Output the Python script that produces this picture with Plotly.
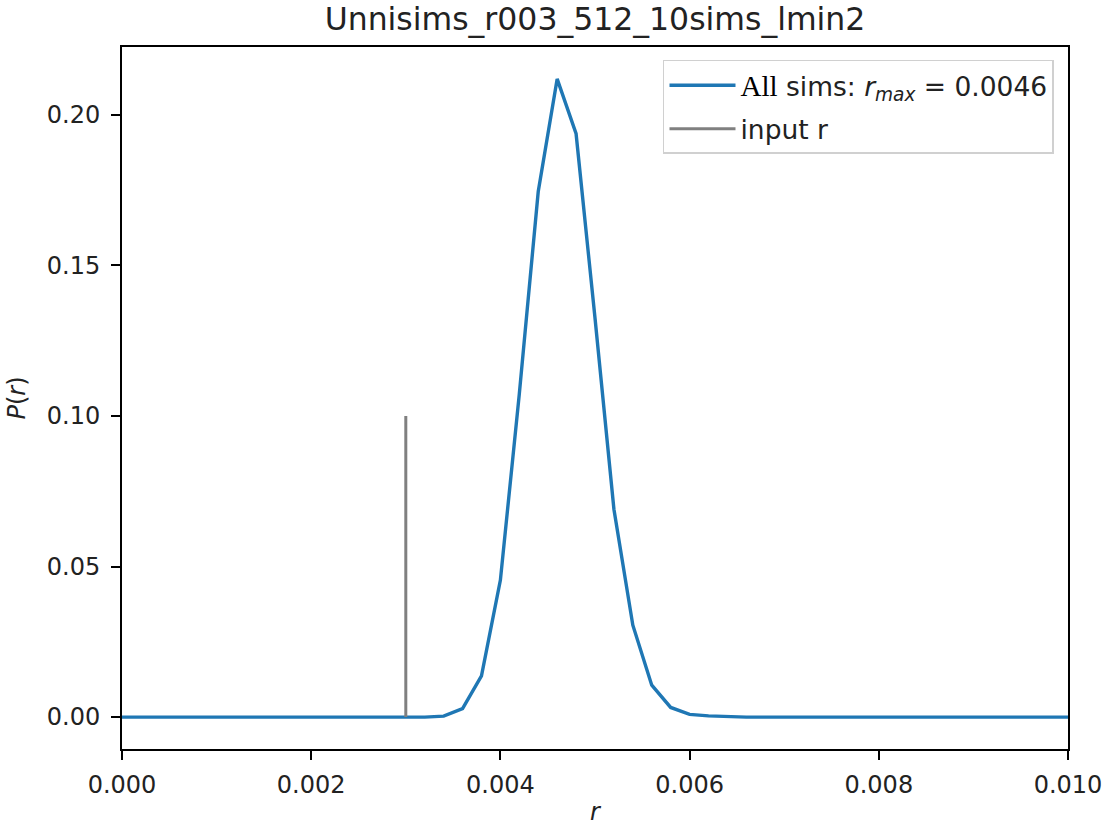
import plotly.graph_objects as go

# ---- data ----
r_values = [round(i * 0.0002, 4) for i in range(51)]  # grid 0 .. 0.010
p_nonzero = {
    0.0034: 0.0003,
    0.0036: 0.0028,
    0.0038: 0.0137,
    0.0040: 0.0455,
    0.0042: 0.1073,
    0.0044: 0.1745,
    0.0046: 0.2119,
    0.0048: 0.1937,
    0.0050: 0.1325,
    0.0052: 0.0690,
    0.0054: 0.0305,
    0.0056: 0.0106,
    0.0058: 0.0032,
    0.0060: 0.0009,
    0.0062: 0.0004,
    0.0064: 0.0001,
}
p_values = [p_nonzero.get(r, 0.0) for r in r_values]

input_r = 0.003
input_line_y = [0.0, 0.1]

x_ticks = [0.000, 0.002, 0.004, 0.006, 0.008, 0.010]
y_ticks = [0.00, 0.05, 0.10, 0.15, 0.20]

title_text = "Unnisims_r003_512_10sims_lmin2"

FONT = "DejaVu Sans"
BLUE = "#1f77b4"
GRAY = "#808080"
TEXT = "#222222"

fig = go.Figure()
fig.add_trace(go.Scatter(
    x=r_values, y=p_values, mode="lines",
    line=dict(color=BLUE, width=3.4),
    name="<span style=\"font-family:'Liberation Serif';font-size:29px;fill:#000\">All</span> sims: "
         "<i>r</i><sub><i>max</i></sub> = 0.0046",
    legendgroup="a",
))
fig.add_trace(go.Scatter(
    x=[input_r, input_r], y=input_line_y, mode="lines",
    line=dict(color=GRAY, width=3.0),
    name="input r",
    legendgroup="b",
))

axis_common = dict(
    showline=True, linecolor="black", linewidth=1.9, mirror=True,
    ticks="outside", ticklen=9, tickwidth=1.9, tickcolor="black",
    showgrid=False, zeroline=False, automargin=False,
    tickfont=dict(family=FONT, size=24, color=TEXT),
)

fig.update_layout(
    width=1106, height=826,
    margin=dict(l=122, r=38, t=47, b=77),
    paper_bgcolor="white", plot_bgcolor="white",
    title=dict(text=title_text, x=0.5, xanchor="center", xref="paper",
               y=1 - 19 / 826, yanchor="middle",
               font=dict(family=FONT, size=31.5, color=TEXT)),
    xaxis=dict(range=[0, 0.010], tickvals=x_ticks,
               ticktext=[f"{v:.3f}" for v in x_ticks],
               ticklabelstandoff=4,
               title=dict(text="<i>r</i>", standoff=9,
                          font=dict(family=FONT, size=24, color=TEXT)),
               **axis_common),
    yaxis=dict(range=[-0.0106, 0.2225], tickvals=y_ticks,
               ticktext=[f"{v:.2f}" for v in y_ticks],
               ticklabelstandoff=6,
               title=dict(text="<i>P</i>(<i>r</i>)", standoff=14,
                          font=dict(family=FONT, size=24, color=TEXT)),
               **axis_common),
    legend=dict(x=0.9852, xanchor="right", y=0.9815, yanchor="top",
                bgcolor="rgba(255,255,255,0.8)", bordercolor="#d0d0d0",
                borderwidth=1.5, traceorder="grouped", tracegroupgap=6,
                itemwidth=66,
                font=dict(family=FONT, size=26.5, color=TEXT)),
    showlegend=True,
)

fig.write_html(
    "out.html",
    config={"displayModeBar": False},
    post_script="document.body.style.margin='0';document.body.style.overflow='hidden';",
)
